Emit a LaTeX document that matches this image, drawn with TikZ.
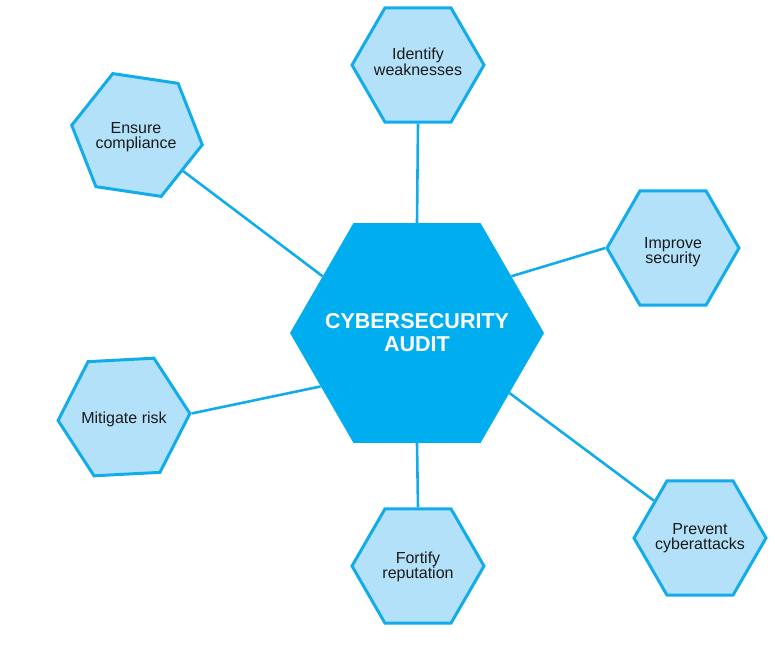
\documentclass[tikz,border=0pt]{standalone}
\usepackage{fontspec}
\setmainfont{Liberation Sans}
\usetikzlibrary{shapes.geometric}
\definecolor{mainblue}{HTML}{00AEEF}
\definecolor{lightblue}{HTML}{B3E1F9}
\definecolor{edgeblue}{HTML}{12ACEA}
\definecolor{txt}{HTML}{1A1A1A}
\begin{document}
\begin{tikzpicture}[x=1pt,y=-1pt,
  hexbase/.style={regular polygon, regular polygon sides=6, inner sep=0pt},
  outerhex/.style={hexbase, minimum size=132pt, fill=lightblue, draw=edgeblue, line width=3pt},
  mainhex/.style={hexbase, minimum size=254pt, fill=mainblue},
  smalltext/.style={font=\fontsize{16}{15.5}\selectfont, align=center, text=txt, inner sep=0pt},
  maintext/.style={text=white, font=\fontsize{21.5}{23}\selectfont\bfseries, align=center, inner sep=0pt},
  link/.style={draw=edgeblue, line width=2.6pt}]
\useasboundingbox (0,0) rectangle (775,659);
\node[mainhex] (main) at (417,333) {};
\node[maintext] (maint) at (417,333) {CYBERSECURITY\\AUDIT};
\node[outerhex] (ident) at (418,65) {};
\node[outerhex, shape border rotate=-8.5] (comp) at (137,135) {};
\node[outerhex] (impr) at (673,248) {};
\node[outerhex, shape border rotate=3] (miti) at (124,417) {};
\node[outerhex] (fort) at (418,566) {};
\node[outerhex] (prev) at (700,538) {};
\node[smalltext] (identt) at (418,62) {Identify\\weaknesses};
\node[smalltext] (compt) at (136,137) {Ensure\\compliance};
\node[smalltext] (imprt) at (673,252) {Improve\\security};
\node[smalltext] (mitit) at (124,419) {Mitigate risk};
\node[smalltext] (fortt) at (418,567) {Fortify\\reputation};
\node[smalltext] (prevt) at (700,538) {Prevent\\cyberattacks};
\draw[link] (comp.-38.8) -- (main.149.8);
\draw[link] (ident.270) -- (main.90);
\draw[link] (impr.180) -- (main.31.4);
\draw[link] (miti.3.5) -- (main.209.3);
\draw[link] (fort.90) -- (main.270);
\draw[link] (prev.141.3) -- (main.-33.4);
\end{tikzpicture}
\end{document}
